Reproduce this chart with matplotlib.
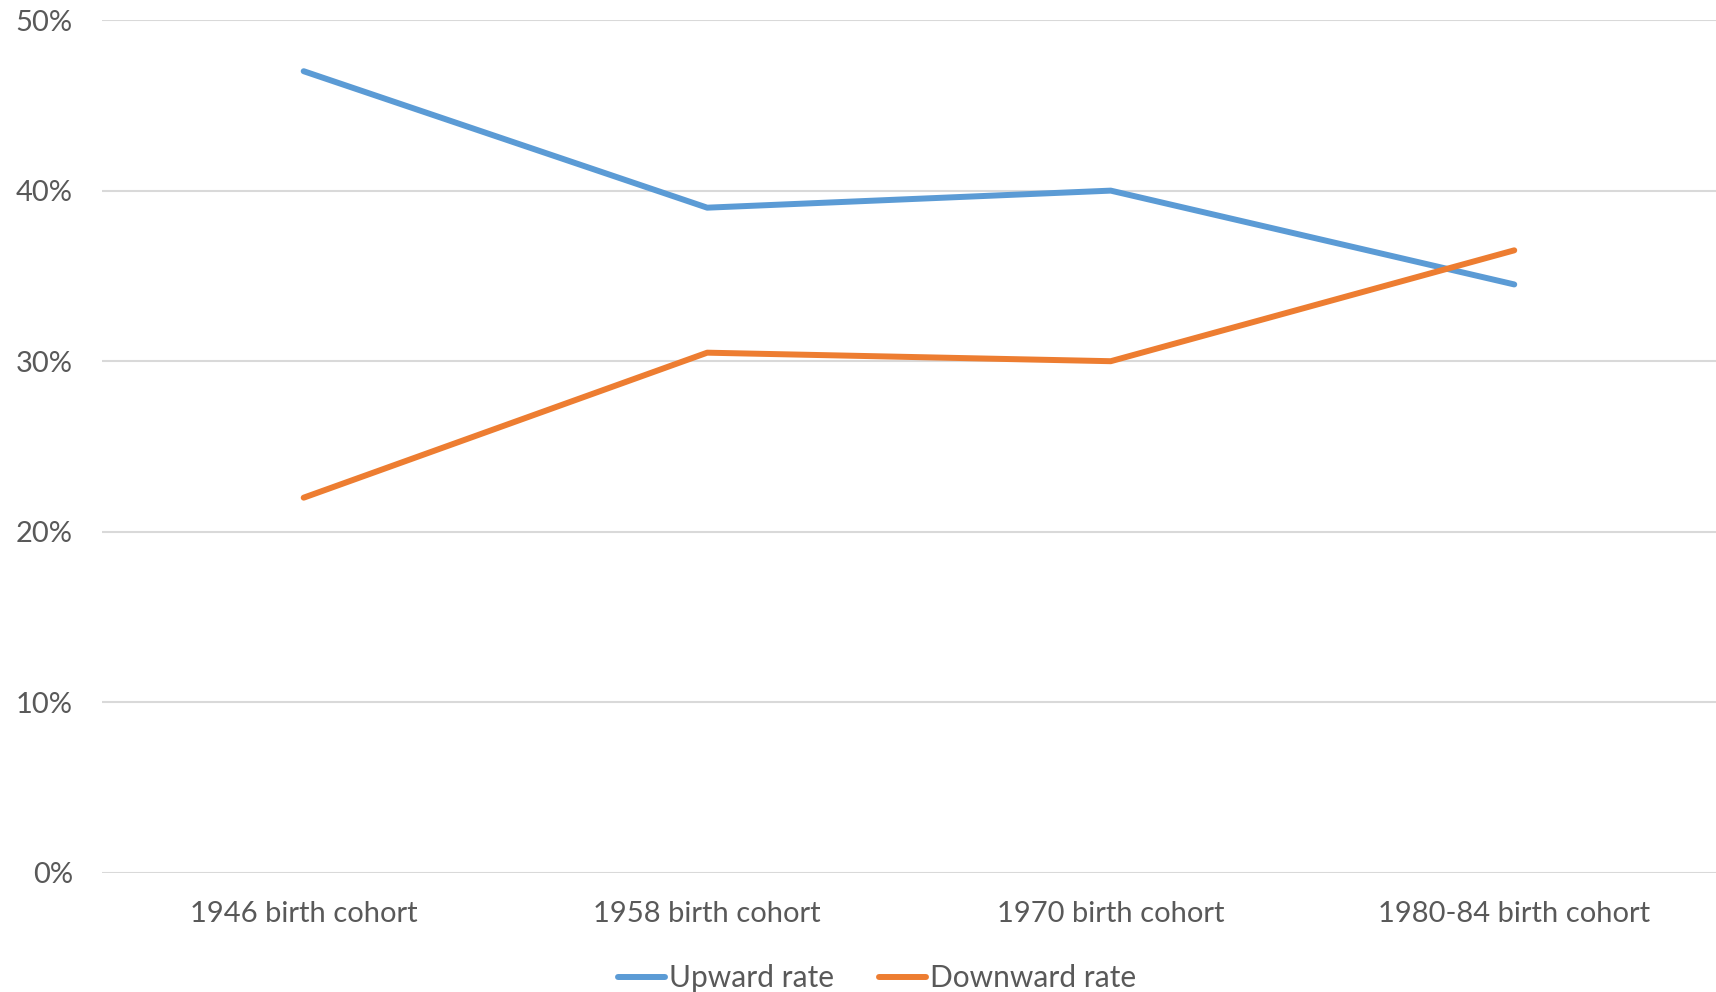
import matplotlib.pyplot as plt
from matplotlib.ticker import PercentFormatter

# data
cohorts = ["1946 birth cohort", "1958 birth cohort", "1970 birth cohort", "1980-84 birth cohort"]
upward = [0.47, 0.39, 0.40, 0.345]
downward = [0.22, 0.305, 0.30, 0.365]

plt.rcParams['font.family'] = ['Lato', 'DejaVu Sans']
txt = '#595959'

fig = plt.figure(figsize=(17.16, 9.92), dpi=100)
ax = fig.add_axes([0.0594, 0.12, 0.9406, 0.8598])

x = range(len(cohorts))
ax.plot(x, upward, color='#5B9BD5', lw=4.3, solid_capstyle='round', label='Upward rate')
ax.plot(x, downward, color='#ED7D31', lw=4.3, solid_capstyle='round', label='Downward rate')

ax.set_xlim(-0.5, 3.5)
ax.set_ylim(0, 0.5)
ax.set_yticks([0, 0.1, 0.2, 0.3, 0.4, 0.5])
ax.yaxis.set_major_formatter(PercentFormatter(1.0, decimals=0))
ax.set_xticks(list(x))
ax.set_xticklabels(cohorts)
ax.tick_params(axis='both', length=0, labelsize=21, labelcolor=txt)
ax.tick_params(axis='y', pad=21)
ax.tick_params(axis='x', pad=20.5)

ax.grid(axis='y', color='#d9d9d9', lw=1.5)
ax.set_axisbelow(True)
for s in ax.spines.values():
    s.set_visible(False)

leg = fig.legend(loc='center', bbox_to_anchor=(0.511, 0.014), ncol=2, frameon=False,
                 fontsize=21.5, handlelength=1.6, handletextpad=0.12, columnspacing=1.5,
                 labelcolor=txt)

fig.savefig('out.png', dpi=100)
